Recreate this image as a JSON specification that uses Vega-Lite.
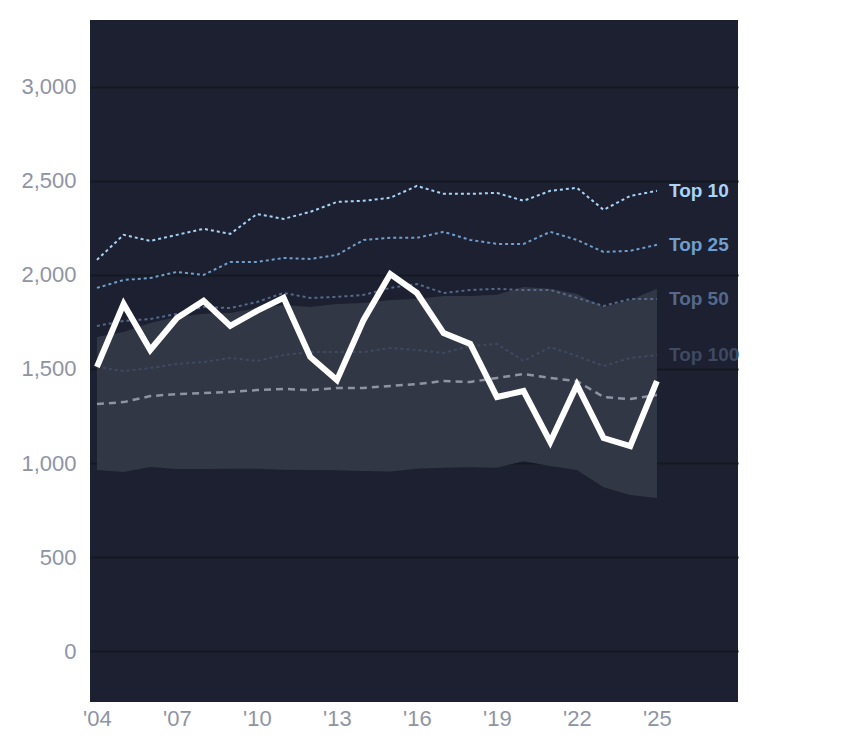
{
"$schema":"https://vega.github.io/schema/vega-lite/v6.json",
"width":648,"height":682,
"autosize":{"type":"none"},
"padding":{"left":90,"top":20,"right":106,"bottom":46},
"background":"white",
"config":{"view":{"fill":"#1c2030","stroke":null},"font":"Liberation Sans"},
"datasets":{
"band":[
{"year":2004,"lo":963,"hi":1670},{"year":2005,"lo":952,"hi":1697},{"year":2006,"lo":979,"hi":1745},{"year":2007,"lo":968,"hi":1777},{"year":2008,"lo":968,"hi":1793},{"year":2009,"lo":970,"hi":1798},{"year":2010,"lo":970,"hi":1824},{"year":2011,"lo":965,"hi":1840},{"year":2012,"lo":963,"hi":1830},{"year":2013,"lo":962,"hi":1846},{"year":2014,"lo":958,"hi":1851},{"year":2015,"lo":955,"hi":1867},{"year":2016,"lo":970,"hi":1872},{"year":2017,"lo":975,"hi":1888},{"year":2018,"lo":978,"hi":1888},{"year":2019,"lo":975,"hi":1894},{"year":2020,"lo":1010,"hi":1936},{"year":2021,"lo":984,"hi":1926},{"year":2022,"lo":963,"hi":1899},{"year":2023,"lo":872,"hi":1830},{"year":2024,"lo":830,"hi":1867},{"year":2025,"lo":814,"hi":1926}],
"tops":[
{"year":2004,"s":"Top 10","v":2080},{"year":2005,"s":"Top 10","v":2213},{"year":2006,"s":"Top 10","v":2181},{"year":2007,"s":"Top 10","v":2213},{"year":2008,"s":"Top 10","v":2245},{"year":2009,"s":"Top 10","v":2218},{"year":2010,"s":"Top 10","v":2324},{"year":2011,"s":"Top 10","v":2298},{"year":2012,"s":"Top 10","v":2335},{"year":2013,"s":"Top 10","v":2388},{"year":2014,"s":"Top 10","v":2394},{"year":2015,"s":"Top 10","v":2410},{"year":2016,"s":"Top 10","v":2473},{"year":2017,"s":"Top 10","v":2431},{"year":2018,"s":"Top 10","v":2431},{"year":2019,"s":"Top 10","v":2436},{"year":2020,"s":"Top 10","v":2394},{"year":2021,"s":"Top 10","v":2447},{"year":2022,"s":"Top 10","v":2463},{"year":2023,"s":"Top 10","v":2346},{"year":2024,"s":"Top 10","v":2420},{"year":2025,"s":"Top 10","v":2447},
{"year":2004,"s":"Top 25","v":1931},{"year":2005,"s":"Top 25","v":1973},{"year":2006,"s":"Top 25","v":1984},{"year":2007,"s":"Top 25","v":2016},{"year":2008,"s":"Top 25","v":2000},{"year":2009,"s":"Top 25","v":2069},{"year":2010,"s":"Top 25","v":2069},{"year":2011,"s":"Top 25","v":2090},{"year":2012,"s":"Top 25","v":2085},{"year":2013,"s":"Top 25","v":2106},{"year":2014,"s":"Top 25","v":2186},{"year":2015,"s":"Top 25","v":2197},{"year":2016,"s":"Top 25","v":2197},{"year":2017,"s":"Top 25","v":2229},{"year":2018,"s":"Top 25","v":2186},{"year":2019,"s":"Top 25","v":2165},{"year":2020,"s":"Top 25","v":2165},{"year":2021,"s":"Top 25","v":2229},{"year":2022,"s":"Top 25","v":2186},{"year":2023,"s":"Top 25","v":2122},{"year":2024,"s":"Top 25","v":2128},{"year":2025,"s":"Top 25","v":2160},
{"year":2004,"s":"Top 50","v":1729},{"year":2005,"s":"Top 50","v":1755},{"year":2006,"s":"Top 50","v":1766},{"year":2007,"s":"Top 50","v":1793},{"year":2008,"s":"Top 50","v":1830},{"year":2009,"s":"Top 50","v":1824},{"year":2010,"s":"Top 50","v":1856},{"year":2011,"s":"Top 50","v":1904},{"year":2012,"s":"Top 50","v":1878},{"year":2013,"s":"Top 50","v":1883},{"year":2014,"s":"Top 50","v":1894},{"year":2015,"s":"Top 50","v":1931},{"year":2016,"s":"Top 50","v":1952},{"year":2017,"s":"Top 50","v":1904},{"year":2018,"s":"Top 50","v":1920},{"year":2019,"s":"Top 50","v":1926},{"year":2020,"s":"Top 50","v":1920},{"year":2021,"s":"Top 50","v":1920},{"year":2022,"s":"Top 50","v":1878},{"year":2023,"s":"Top 50","v":1835},{"year":2024,"s":"Top 50","v":1872},{"year":2025,"s":"Top 50","v":1872},
{"year":2004,"s":"Top 100","v":1511},{"year":2005,"s":"Top 100","v":1489},{"year":2006,"s":"Top 100","v":1505},{"year":2007,"s":"Top 100","v":1527},{"year":2008,"s":"Top 100","v":1537},{"year":2009,"s":"Top 100","v":1559},{"year":2010,"s":"Top 100","v":1543},{"year":2011,"s":"Top 100","v":1574},{"year":2012,"s":"Top 100","v":1590},{"year":2013,"s":"Top 100","v":1590},{"year":2014,"s":"Top 100","v":1590},{"year":2015,"s":"Top 100","v":1612},{"year":2016,"s":"Top 100","v":1601},{"year":2017,"s":"Top 100","v":1585},{"year":2018,"s":"Top 100","v":1622},{"year":2019,"s":"Top 100","v":1633},{"year":2020,"s":"Top 100","v":1543},{"year":2021,"s":"Top 100","v":1617},{"year":2022,"s":"Top 100","v":1569},{"year":2023,"s":"Top 100","v":1516},{"year":2024,"s":"Top 100","v":1559},{"year":2025,"s":"Top 100","v":1574}],
"median":[
{"year":2004,"v":1314},{"year":2005,"v":1324},{"year":2006,"v":1356},{"year":2007,"v":1367},{"year":2008,"v":1372},{"year":2009,"v":1378},{"year":2010,"v":1388},{"year":2011,"v":1394},{"year":2012,"v":1388},{"year":2013,"v":1399},{"year":2014,"v":1399},{"year":2015,"v":1410},{"year":2016,"v":1420},{"year":2017,"v":1436},{"year":2018,"v":1431},{"year":2019,"v":1452},{"year":2020,"v":1473},{"year":2021,"v":1452},{"year":2022,"v":1436},{"year":2023,"v":1351},{"year":2024,"v":1340},{"year":2025,"v":1362}],
"main":[
{"year":2004,"v":1511},{"year":2005,"v":1846},{"year":2006,"v":1601},{"year":2007,"v":1771},{"year":2008,"v":1862},{"year":2009,"v":1729},{"year":2010,"v":1809},{"year":2011,"v":1878},{"year":2012,"v":1564},{"year":2013,"v":1441},{"year":2014,"v":1761},{"year":2015,"v":2005},{"year":2016,"v":1904},{"year":2017,"v":1691},{"year":2018,"v":1633},{"year":2019,"v":1351},{"year":2020,"v":1383},{"year":2021,"v":1112},{"year":2022,"v":1415},{"year":2023,"v":1133},{"year":2024,"v":1090},{"year":2025,"v":1436}]
},
"layer":[
{"data":{"name":"band"},"mark":{"type":"area","color":"#343947","opacity":0.95},
"encoding":{"x":{"field":"year","type":"quantitative","scale":{"domain":[2003.74,2028.04],"nice":false,"zero":false},
"axis":{"values":[2004,2007,2010,2013,2016,2019,2022,2025],"labelExpr":"\"'\" + slice(toString(datum.value),2)","grid":false,"ticks":false,"domain":false,"labelFontSize":22,"labelColor":"#8e94a4","labelPadding":6,"title":null}},
"y":{"field":"lo","type":"quantitative","scale":{"domain":[-270,3355],"nice":false,"zero":false},
"axis":{"values":[0,500,1000,1500,2000,2500,3000],"grid":true,"gridColor":"#141822","gridWidth":2,"ticks":false,"domain":false,"labelFontSize":22,"labelColor":"#8e94a4","labelPadding":14,"title":null}},
"y2":{"field":"hi"}}},
{"data":{"name":"tops"},"mark":{"type":"line","strokeWidth":2,"strokeDash":[3,3]},
"encoding":{"x":{"field":"year","type":"quantitative"},"y":{"field":"v","type":"quantitative"},
"color":{"field":"s","type":"nominal","scale":{"domain":["Top 10","Top 25","Top 50","Top 100"],"range":["#a8d4f8","#6f9fcc","#55698a","#3e4962"]},"legend":null}}},
{"data":{"name":"median"},"mark":{"type":"line","strokeWidth":2.5,"strokeDash":[7,5],"color":"#8e94a4"},
"encoding":{"x":{"field":"year","type":"quantitative"},"y":{"field":"v","type":"quantitative"}}},
{"data":{"name":"main"},"mark":{"type":"line","strokeWidth":6,"color":"white"},
"encoding":{"x":{"field":"year","type":"quantitative"},"y":{"field":"v","type":"quantitative"}}},
{"data":{"name":"tops"},"transform":[{"filter":"datum.year==2025"}],
"mark":{"type":"text","align":"left","dx":12,"fontSize":19,"fontWeight":"bold","font":"Liberation Sans"},
"encoding":{"x":{"field":"year","type":"quantitative"},"y":{"field":"v","type":"quantitative"},"text":{"field":"s"},
"color":{"field":"s","type":"nominal","legend":null}}}
]
}
